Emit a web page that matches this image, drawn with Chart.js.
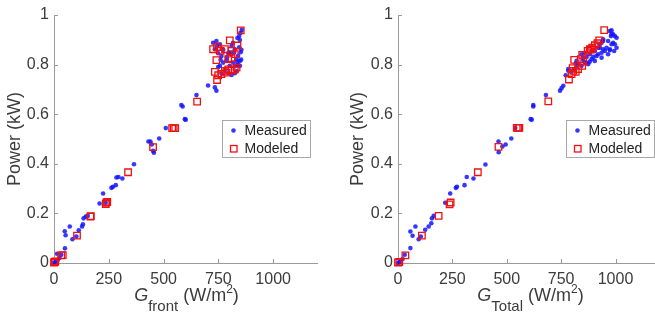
<!DOCTYPE html>
<html>
<head>
<meta charset="utf-8">
<script src="https://cdn.jsdelivr.net/npm/chart.js@4"></script>
<style>
  html, body { margin: 0; padding: 0; background: #fff; overflow: hidden; width: 655px; height: 320px; }
  canvas { position: absolute; top: 0; }
  #front { left: 0; }
  #total { left: 327px; }
</style>
</head>
<body>
<canvas id="front" width="327" height="320"></canvas>
<canvas id="total" width="340" height="320"></canvas>
<script>
const xTicks = [0, 250, 500, 750, 1000];
const yTicks = [0, 0.2, 0.4, 0.6, 0.8, 1];
const seriesNames = ['Measured', 'Modeled'];

// left panel: G_front
const frontMeasuredX = [0, 4, 11, 18, 25, 14, 33, 50, 49, 53, 72, 84, 102, 113, 128, 132, 135, 145, 154, 208, 224, 236, 262, 269, 282, 285, 294, 312, 365, 431, 440, 446, 452, 456, 480, 510, 581, 587, 597, 601, 650, 703, 734, 741,
  726, 741, 757, 734, 749, 764, 772, 757, 787, 802, 817, 833, 840, 848, 840, 848, 817, 810, 825, 845, 837, 848, 851, 857, 795, 810, 780, 795, 810, 825, 833, 749, 764, 852, 855, 845, 800, 772, 744, 790, 822, 836, 854, 830, 760];
const frontMeasuredY = [0, 0.003, 0.007, 0.013, 0.02, 0.037, 0.033, 0.059, 0.128, 0.112, 0.147, 0.096, 0.107, 0.132, 0.147, 0.156, 0.18, 0.187, 0.19, 0.24, 0.28, 0.243, 0.303, 0.307, 0.314, 0.345, 0.347, 0.341, 0.398, 0.49, 0.49, 0.478, 0.452, 0.445, 0.502, 0.544, 0.637, 0.631, 0.58, 0.578, 0.677, 0.716, 0.708, 0.695,
  0.888, 0.895, 0.882, 0.862, 0.846, 0.835, 0.808, 0.795, 0.815, 0.795, 0.808, 0.822, 0.835, 0.815, 0.798, 0.795, 0.888, 0.875, 0.862, 0.915, 0.907, 0.899, 0.928, 0.94, 0.846, 0.84, 0.778, 0.765, 0.758, 0.765, 0.773, 0.79, 0.763, 0.85, 0.86, 0.87, 0.85, 0.86, 0.875, 0.83, 0.85, 0.81, 0.82, 0.795, 0.82];
const frontModeledX = [0, 3, 6, 33, 40, 105, 166, 168, 236, 239, 243, 338, 452, 539, 546, 553, 653, 744, 734, 749, 764, 787, 780, 795, 810, 825, 833, 741, 795, 810, 726, 744, 760, 780, 810, 825, 837, 802, 852];
const frontModeledY = [0.002, 0.004, 0.006, 0.031, 0.032, 0.11, 0.187, 0.189, 0.238, 0.244, 0.246, 0.366, 0.467, 0.544, 0.544, 0.544, 0.651, 0.738, 0.771, 0.757, 0.762, 0.768, 0.775, 0.781, 0.776, 0.781, 0.788, 0.818, 0.822, 0.826, 0.862, 0.871, 0.855, 0.862, 0.855, 0.842, 0.877, 0.898, 0.938];

// right panel: G_Total
const totalMeasuredX = [0, 5, 11, 21, 31, 57, 57, 67, 80, 95, 105, 125, 141, 153, 156, 164, 217, 240, 266, 271, 306, 316, 347, 402, 462, 463, 480, 495, 521, 539, 610, 615, 622, 622, 680, 745, 752, 760, 771, 783,
  806, 821, 829, 844, 852, 867, 875, 882, 890, 898, 905, 913, 920, 936, 943, 951, 959, 966, 974, 982, 989, 997, 1005, 982, 974, 982, 997, 979, 943, 920, 890, 859, 844, 817, 798, 867, 882, 905, 928, 936, 1005, 994, 989, 966, 943, 928, 936, 974, 859, 813, 783, 821, 851];
const totalMeasuredY = [0, 0.003, 0.007, 0.016, 0.033, 0.06, 0.127, 0.11, 0.147, 0.096, 0.107, 0.134, 0.147, 0.16, 0.18, 0.19, 0.243, 0.28, 0.303, 0.307, 0.314, 0.347, 0.341, 0.397, 0.49, 0.447, 0.47, 0.478, 0.502, 0.544, 0.58, 0.578, 0.637, 0.631, 0.677, 0.695, 0.705, 0.715, 0.757, 0.775,
  0.778, 0.788, 0.802, 0.795, 0.818, 0.807, 0.802, 0.812, 0.822, 0.831, 0.815, 0.835, 0.842, 0.848, 0.862, 0.855, 0.868, 0.842, 0.858, 0.882, 0.888, 0.882, 0.908, 0.922, 0.935, 0.938, 0.915, 0.915, 0.895, 0.868, 0.855, 0.848, 0.842, 0.804, 0.771, 0.831, 0.842, 0.855, 0.868, 0.888, 0.868, 0.855, 0.922, 0.895, 0.902, 0.882, 0.828, 0.862, 0.808, 0.782, 0.782, 0.815, 0.828];
const totalModeledX = [0, 6, 34, 110, 187, 237, 242, 367, 462, 546, 553, 558, 691, 786, 798, 806, 817, 828, 803, 847, 810, 841, 852, 847, 872, 882, 887, 893, 905, 917, 925, 948];
const totalModeledY = [0.002, 0.004, 0.031, 0.11, 0.19, 0.236, 0.244, 0.366, 0.468, 0.545, 0.545, 0.545, 0.652, 0.74, 0.762, 0.775, 0.771, 0.782, 0.786, 0.795, 0.819, 0.822, 0.812, 0.839, 0.855, 0.862, 0.86, 0.868, 0.878, 0.886, 0.898, 0.939];

const axisColor = '#9a9a9a';
const textColor = '#3c3c3c';
const blue = 'rgba(20,20,255,0.85)';
const red = '#f01010';
const fontFamily = '"Liberation Sans", Arial, Helvetica, sans-serif';

function pairs(xs, ys) {
  return xs.map((x, i) => ({ x: x, y: ys[i] }));
}

// inward ticks, subscripted x title and the boxed legend
const decor = {
  id: 'decor',
  afterDraw(chart) {
    const { ctx, chartArea: ca, scales } = chart;
    const opts = chart.options.plugins.decor;
    ctx.save();
    ctx.strokeStyle = axisColor;
    ctx.lineWidth = 1;
    ctx.beginPath();
    scales.x.ticks.forEach(t => {
      if (t.value === 0) return;
      const px = Math.round(scales.x.getPixelForValue(t.value)) + 0.5;
      ctx.moveTo(px, ca.bottom);
      ctx.lineTo(px, ca.bottom - 4);
    });
    scales.y.ticks.forEach(t => {
      if (t.value === 0) return;
      const py = Math.round(scales.y.getPixelForValue(t.value)) + 0.5;
      ctx.moveTo(ca.left, py);
      ctx.lineTo(ca.left + 4, py);
    });
    ctx.stroke();

    // x title: G_sub (W/m^2)
    const parts = [
      { t: 'G', f: 'italic 18px ' + fontFamily, dy: 0 },
      { t: opts.sub, f: '15px ' + fontFamily, dy: 10 },
      { t: ' (W/m', f: '18px ' + fontFamily, dy: 0 },
      { t: '2', f: '12px ' + fontFamily, dy: -8 },
      { t: ')', f: '18px ' + fontFamily, dy: 0 }
    ];
    let total = 0;
    parts.forEach(p => { ctx.font = p.f; p.w = ctx.measureText(p.t).width; total += p.w; });
    let cx = (ca.left + ca.right) / 2 + opts.titleShift - total / 2;
    const base = 301;
    ctx.fillStyle = textColor;
    ctx.textBaseline = 'alphabetic';
    ctx.textAlign = 'left';
    parts.forEach(p => {
      ctx.font = p.f;
      ctx.fillText(p.t, cx, base + p.dy);
      cx += p.w;
    });

    // legend
    const bx = Math.round(ca.left + 168) + 0.5;
    const by = Math.round(ca.top + 105) + 0.5;
    ctx.fillStyle = '#fff';
    ctx.fillRect(bx, by, 88, 37);
    ctx.strokeStyle = '#a8a8a8';
    ctx.strokeRect(bx, by, 88, 37);
    const ds = chart.data.datasets;
    ctx.font = '14px ' + fontFamily;
    ctx.textBaseline = 'middle';
    ctx.fillStyle = blue;
    ctx.beginPath();
    ctx.arc(bx + 11, by + 10, 2.3, 0, Math.PI * 2);
    ctx.fill();
    ctx.strokeStyle = red;
    ctx.lineWidth = 1.3;
    ctx.strokeRect(bx + 8, by + 25, 6.5, 6.5);
    ctx.fillStyle = '#222';
    ctx.fillText(ds[0].label, bx + 22, by + 10.5);
    ctx.fillText(ds[1].label, bx + 22, by + 28.5);
    ctx.restore();
  }
};

function makeChart(id, mx, my, sx, sy, sub, opt) {
  return new Chart(document.getElementById(id), {
    type: 'scatter',
    data: {
      datasets: [
        {
          label: seriesNames[0],
          data: pairs(mx, my),
          pointStyle: 'circle',
          pointRadius: 2.3,
          pointBackgroundColor: blue,
          pointBorderWidth: 0,
          order: 1,
          clip: false
        },
        {
          label: seriesNames[1],
          data: pairs(sx, sy),
          pointStyle: 'rect',
          pointRadius: 4.6,
          pointBackgroundColor: 'rgba(0,0,0,0)',
          pointBorderColor: red,
          pointBorderWidth: 1.3,
          order: 0,
          clip: false
        }
      ]
    },
    options: {
      responsive: false,
      animation: false,
      devicePixelRatio: 1,
      layout: { padding: { top: 15, right: opt.padRight, left: 0, bottom: 0 } },
      plugins: {
        legend: { display: false },
        tooltip: { enabled: false },
        decor: { sub: sub, titleShift: opt.titleShift }
      },
      scales: {
        x: {
          type: 'linear',
          min: 0,
          max: 1200,
          afterBuildTicks: s => { s.ticks = xTicks.map(v => ({ value: v })); },
          afterFit: s => { s.height = 57; },
          grid: { drawOnChartArea: false, drawTicks: false },
          border: { color: axisColor, width: 1 },
          ticks: {
            padding: 7, color: textColor, font: { family: fontFamily, size: 16 }, maxRotation: 0,
            callback: v => String(v)
          }
        },
        y: {
          type: 'linear',
          min: 0,
          max: 1,
          afterBuildTicks: s => { s.ticks = yTicks.map(v => ({ value: v })); },
          afterFit: s => { s.width = opt.yWidth; },
          grid: { drawOnChartArea: false, drawTicks: false },
          border: { color: axisColor, width: 1 },
          ticks: {
            padding: 5, color: textColor, font: { family: fontFamily, size: 16 },
            callback: v => String(v)
          },
          title: {
            display: true,
            text: 'Power (kW)',
            color: textColor,
            font: { family: fontFamily, size: 18 },
            padding: { top: opt.titlePad, bottom: 0 }
          }
        }
      }
    },
    plugins: [decor]
  });
}

makeChart('front', frontMeasuredX, frontMeasuredY, frontModeledX, frontModeledY, 'front',
  { padRight: 10, yWidth: 54, titlePad: 4, titleShift: 1 });
makeChart('total', totalMeasuredX, totalMeasuredY, totalModeledX, totalModeledY, 'Total',
  { padRight: 8, yWidth: 71, titlePad: 20, titleShift: 2 });
</script>
</body>
</html>
